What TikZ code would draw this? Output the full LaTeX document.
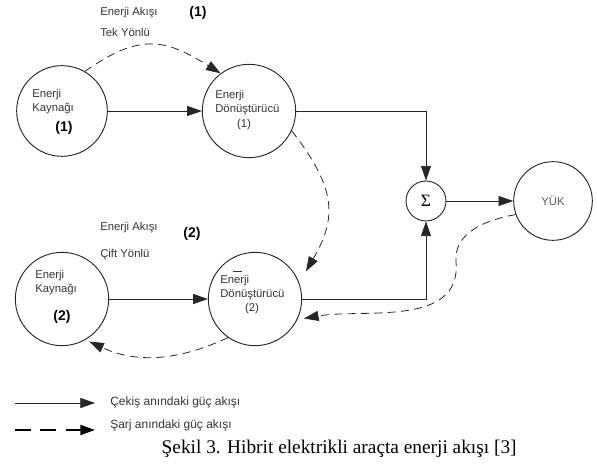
\documentclass[tikz,border=0pt]{standalone}
\usepackage{fontspec}
\setmainfont{Liberation Serif}
\setsansfont{Liberation Sans}
\usetikzlibrary{arrows.meta}

\begin{document}
\begin{tikzpicture}[x=0.75pt, y=-0.75pt,
    unit/.style={circle, draw=black!85, line width=0.7pt, inner sep=0pt},
    txt/.style={font=\sffamily\fontsize{8.5}{10.5}\selectfont, text=black!80, inner sep=0pt},
    num/.style={font=\sffamily\bfseries\fontsize{10.5}{12}\selectfont, inner sep=0pt},
    drive/.style={draw=black!85, line width=0.6pt, -{Triangle[length=11pt, width=7.5pt]}},
    charge/.style={drive, dash pattern=on 6pt off 4pt}]
  \useasboundingbox (0,0) rectangle (597,470);

  % sources, converters, summing junction and load
  \node[unit, minimum size=68pt] (k1) at (62, 111) {};
  \node[unit, minimum size=70pt] (d1) at (249, 111) {};
  \node[unit, minimum size=70pt] (k2) at (62, 299) {};
  \node[unit, minimum size=70pt] (d2) at (255, 299) {};
  \node[unit, minimum size=30pt, font=\rmfamily\fontsize{13}{13}\selectfont] (sum) at (426, 201) {Σ};
  \node[unit, minimum size=59pt, txt, text=black!65] (yuk) at (553, 201) {YÜK};

  % texts inside the circles
  \node[txt, anchor=west, align=left] (k1t) at (32, 102) {Enerji\\Kaynağı};
  \node[num] (k1n) at (64, 128) {(1)};
  \node[txt, anchor=west, align=left] (d1t) at (215, 103) {Enerji\\Dönüştürücü};
  \node[txt] (d1n) at (244, 125) {(1)};
  \node[txt, anchor=west, align=left] (k2t) at (35, 283) {Enerji\\Kaynağı};
  \node[num] (k2n) at (62, 317) {(2)};
  \node[txt, anchor=west, align=left] (d2t) at (220, 288) {Enerji\\Dönüştürücü};
  \node[txt] (d2n) at (252, 309) {(2)};
  \draw[black!80, line width=0.6pt] (233, 271) -- (242, 271);

  % flow labels
  \node[txt, anchor=west] (f1a) at (100, 13) {Enerji Akışı};
  \node[num] (f1n) at (198, 13) {(1)};
  \node[txt, anchor=west] (f1b) at (100, 32) {Tek Yönlü};
  \node[txt, anchor=west] (f2a) at (100, 228) {Enerji Akışı};
  \node[num] (f2n) at (192, 234) {(2)};
  \node[txt, anchor=west] (f2b) at (100, 255) {Çift Yönlü};

  % traction power flow
  \draw[drive] (k1) -- (d1);
  \draw[drive] (k2) -- (d2);
  \draw[drive] (d1.east) -| (sum.north);
  \draw[drive] (d2.east) -| (sum.south);
  \draw[drive] (sum) -- (yuk);

  % charging power flow
  \coordinate (bend) at (456, 262);
  \draw[charge] (k1.60) to[out=35, in=148, looseness=1.25] (d1.127);
  \draw[charge, shorten >=10pt] (d1.-25) to[out=-52, in=60, looseness=1.25] (d2.20);
  \draw[charge, shorten >=5pt] (yuk.200) to[out=190, in=95] (bend) to[out=-85, in=10] (d2.-26);
  \draw[charge, shorten >=3pt] (d2.235) to[out=205, in=-25] (k2.-60);

  % legend
  \coordinate (l1) at (15, 403);
  \coordinate (l2) at (15, 430);
  \draw[drive] (l1) -- +(80, 0);
  \draw[-{Triangle[length=11pt, width=7.5pt]}, line width=1.5pt, dash pattern=on 12pt off 7pt] (l2) -- +(80, 0);
  \node[txt, font=\sffamily\fontsize{9}{11}\selectfont, anchor=west] (lg1) at (110, 402) {Çekiş anındaki güç akışı};
  \node[txt, font=\sffamily\fontsize{9}{11}\selectfont, anchor=west] (lg2) at (110, 425) {Şarj anındaki güç akışı};

  % caption
  \node[font=\fontsize{14.5}{16}\selectfont, anchor=west] (cap) at (157, 449) {Şekil 3. Hibrit elektrikli araçta enerji akışı [3]};
\end{tikzpicture}
\end{document}
